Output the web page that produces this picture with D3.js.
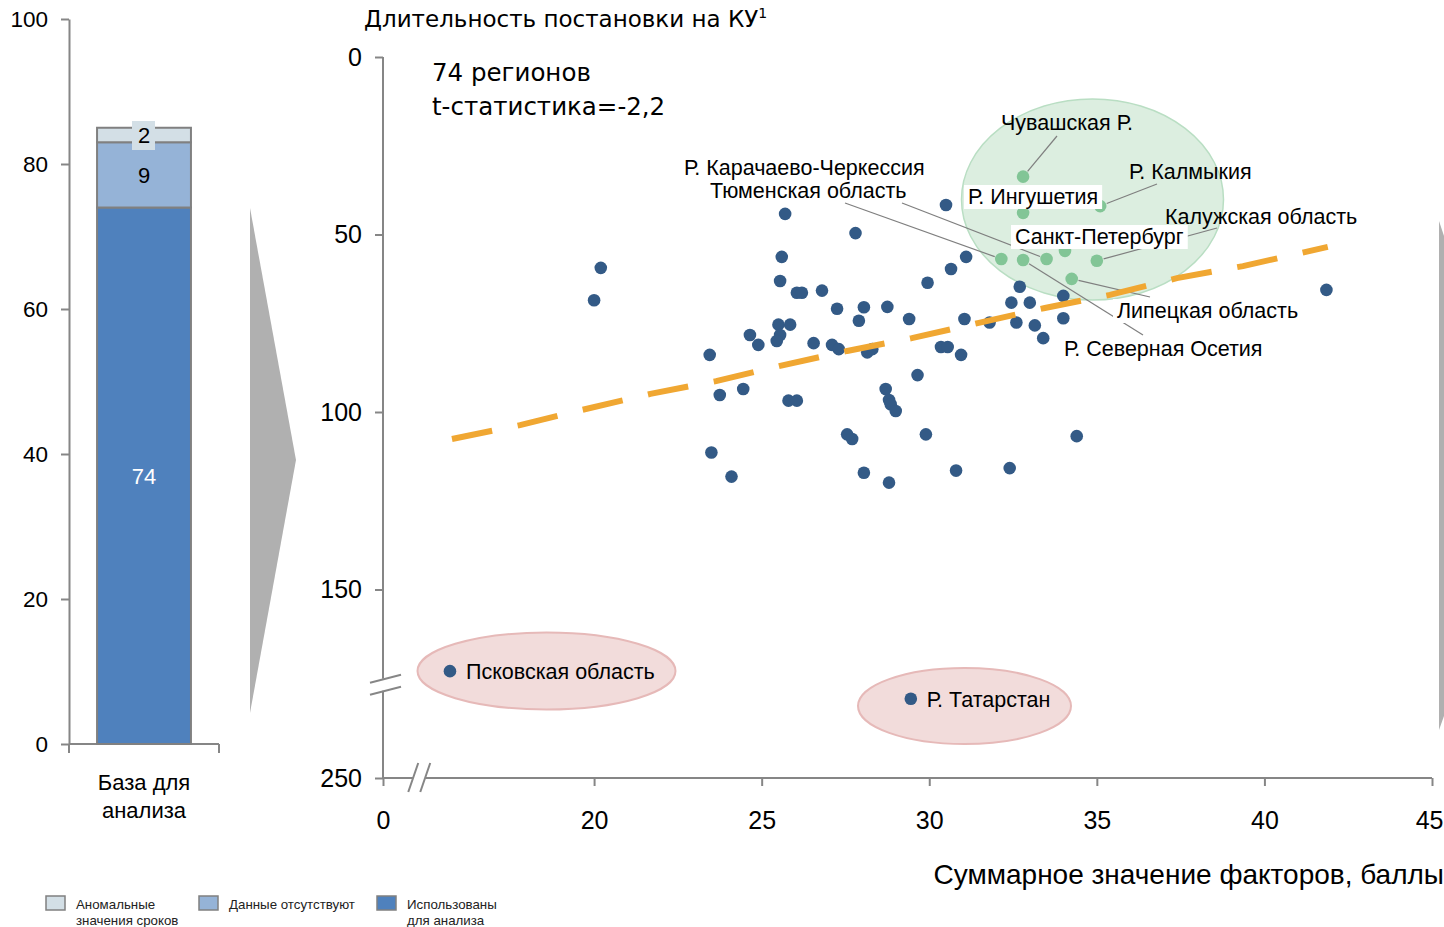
<!DOCTYPE html>
<html>
<head>
<meta charset="utf-8">
<script src="https://cdn.jsdelivr.net/npm/d3@7"></script>
<style>
  body { margin: 0; background: #fff; }
  svg { display: block; font-family: "Liberation Sans", Arial, sans-serif; }
</style>
</head>
<body>
<svg width="1444" height="927"></svg>
<script>
// ---- data: left bar ----
var barCategories = ["База для анализа"];
var barSeries = ["Использованы для анализа", "Данные отсутствуют", "Аномальные значения сроков"];
var barValues = [74, 9, 2];
var barColors = ["#4F81BD", "#95B3D7", "#D3DFE6"];
var barTicks = [0, 20, 40, 60, 80, 100];

// ---- data: scatter (x = сумма факторов, y = длительность) ----
var regions = [
  [20.0,68.5],[20.2,59.4],[25.7,44.2],[30.5,41.7],[27.8,49.6],[25.6,56.3],[25.55,63.1],[26.05,66.4],
  [26.2,66.4],[26.8,65.8],[27.25,70.9],[28.05,70.5],[28.75,70.4],[27.9,74.3],[25.5,75.4],[25.85,75.4],
  [25.55,78.3],[25.45,80.0],[24.65,78.3],[24.9,81.1],[26.55,80.6],[27.1,81.1],[27.3,82.3],[23.45,83.9],
  [29.4,73.8],[31.05,73.8],[28.15,83.2],[28.3,82.3],[30.35,81.7],[30.55,81.7],[30.95,83.9],
  [23.75,95.2],[24.45,93.5],[25.8,96.8],[26.05,96.8],[29.65,89.6],[28.7,93.5],[28.8,96.6],[28.85,97.8],
  [29.0,99.7],[27.55,106.3],[27.7,107.6],[29.9,106.3],[23.5,111.4],[24.1,118.2],[28.05,117.1],[28.8,119.9],
  [30.8,116.5],[32.4,115.8],[34.4,106.8],[41.85,65.6],
  [31.1,56.3],[30.65,59.7],[29.95,63.6],[32.7,64.7],[32.45,69.2],[33.0,69.2],[34.0,67.3],[34.0,73.6],
  [33.15,75.6],[32.6,74.8],[31.8,74.8],[33.4,79.2]
];
var highlighted = [
  {name: "Чувашская Р.", x: 32.8, y: 33.7},
  {name: "Р. Ингушетия", x: 32.8, y: 43.9},
  {name: "Р. Калмыкия", x: 35.1, y: 42.0},
  {name: "Санкт-Петербург", x: 34.05, y: 54.6},
  {name: "Тюменская область", x: 32.15, y: 56.9},
  {name: "Р. Карачаево-Черкессия", x: 33.5, y: 56.9},
  {name: "Р. Северная Осетия", x: 32.8, y: 57.2},
  {name: "Калужская область", x: 35.0, y: 57.4},
  {name: "Липецкая область", x: 34.25, y: 62.5}
];
var outliers = [
  {name: "Псковская область", x: 15.7, y: 173},
  {name: "Р. Татарстан", x: 29.45, y: 189}
];
var trend = [
  [15.76,107.6],[17.79,103.7],[19.64,99.4],[21.68,94.9],[23.64,91.3],[25.55,87.0],[27.55,82.8],
  [29.48,79.2],[31.48,74.9],[33.45,70.7],[35.39,67.0],[37.39,62.3],[39.36,58.9],[41.89,53.5]
];
var xTicks = [0, 20, 25, 30, 35, 40, 45];
var yTicks = [0, 50, 100, 150, 250];

// label layout (pixels): [x, baseline, leaderStartX, leaderStartY, whiteBox]
var labelLayout = {
  "Чувашская Р.": [1001, 130, 1057, 136, false],
  "Р. Ингушетия": [968, 204, null, null, true],
  "Р. Калмыкия": [1129, 179, 1157, 184, false],
  "Санкт-Петербург": [1015, 244, null, null, true],
  "Тюменская область": [710, 198, 845, 203, false],
  "Р. Карачаево-Черкессия": [684, 175, 902, 203, false],
  "Р. Северная Осетия": [1064, 356, 1143, 335, false],
  "Калужская область": [1165, 224, 1217, 228, false],
  "Липецкая область": [1117, 318, 1150, 297, true]
};

var svg = d3.select("svg");
var axisColor = "#868686";

//---------- left bar chart ----------
var yBar = d3.scaleLinear().domain([0, 100]).range([744, 19]);
var xBar = d3.scaleBand().domain(barCategories).range([69, 219]).padding(0.23);

var gl = svg.append("g");
var yAxisL = gl.append("g").attr("transform", "translate(69,0)")
  .call(d3.axisLeft(yBar).tickValues(barTicks).tickSize(8).tickPadding(13).tickSizeOuter(0));
yAxisL.selectAll("text").style("font-size", "22.5px").attr("fill", "#000");
yAxisL.selectAll("line,path").attr("stroke", axisColor).attr("stroke-width", 2);

gl.append("line").attr("x1", 69).attr("x2", 219).attr("y1", 744).attr("y2", 744)
  .attr("stroke", axisColor).attr("stroke-width", 2);
[69, 219].forEach(function(x) {
  gl.append("line").attr("x1", x).attr("x2", x).attr("y1", 744).attr("y2", 753)
    .attr("stroke", axisColor).attr("stroke-width", 2);
});

var stack = [];
var acc = 0;
barValues.forEach(function(v, i) {
  stack.push({v: v, y0: acc, y1: acc + v, color: barColors[i]});
  acc += v;
});
gl.selectAll("rect.seg").data(stack).enter().append("rect")
  .attr("class", "seg")
  .attr("x", xBar(barCategories[0]))
  .attr("width", xBar.bandwidth())
  .attr("y", function(d) { return yBar(d.y1); })
  .attr("height", function(d) { return yBar(d.y0) - yBar(d.y1); })
  .attr("fill", function(d) { return d.color; })
  .attr("stroke", "#808080").attr("stroke-width", 2);

var cx = xBar(barCategories[0]) + xBar.bandwidth() / 2;
stack.forEach(function(d, i) {
  var ym = (yBar(d.y0) + yBar(d.y1)) / 2;
  if (i === 2) {
    gl.append("rect").attr("x", cx - 12).attr("y", ym - 14).attr("width", 23).attr("height", 29)
      .attr("fill", d.color);
  }
  gl.append("text").attr("x", cx).attr("y", ym).attr("dy", "0.36em")
    .attr("text-anchor", "middle").style("font-size", "22px")
    .attr("fill", i === 0 ? "#fff" : "#000").text(d.v);
});

gl.append("text").attr("text-anchor", "middle").style("font-size", "22px")
  .selectAll("tspan").data(["База для", "анализа"]).enter().append("tspan")
  .attr("x", cx).attr("y", function(d, i) { return 790 + i * 28; }).text(function(d) { return d; });

// legend
var legendItems = [
  {color: barColors[2], lines: ["Аномальные", "значения сроков"], x: 46},
  {color: barColors[1], lines: ["Данные отсутствуют"], x: 199},
  {color: barColors[0], lines: ["Использованы", "для анализа"], x: 377}
];
legendItems.forEach(function(it) {
  svg.append("rect").attr("x", it.x).attr("y", 896).attr("width", 19).attr("height", 14)
    .attr("fill", it.color).attr("stroke", "#808080").attr("stroke-width", 1.5);
  svg.append("text").style("font-size", "13.3px").attr("fill", "#222")
    .selectAll("tspan").data(it.lines).enter().append("tspan")
    .attr("x", it.x + 30).attr("y", function(d, i) { return 909 + i * 15.5; })
    .text(function(d) { return d; });
});

// gray arrows
svg.append("polygon").attr("points", "250,208 296,460 250,713").attr("fill", "#B0B0B0");
svg.append("polygon").attr("points", "1439,221 1444,236 1444,716 1439,730").attr("fill", "#B0B0B0");

//---------- scatter ----------
var x = d3.scaleLinear().domain([0, 15, 45]).range([383, 426.5, 1432]);
var y = d3.scaleLinear().domain([0, 176, 250]).range([57, 681.8, 778]);
var gs = svg.append("g");

// ellipses
gs.append("ellipse").attr("cx", 1092.5).attr("cy", 199.5).attr("rx", 131).attr("ry", 100.5)
  .attr("fill", "#DCEEE0").attr("stroke", "#B9DEC3").attr("stroke-width", 1.5);
gs.append("ellipse").attr("cx", 546.5).attr("cy", 671).attr("rx", 129).attr("ry", 38.5)
  .attr("fill", "#F2DCDB").attr("stroke", "#E6B9B8").attr("stroke-width", 2);
gs.append("ellipse").attr("cx", 964.5).attr("cy", 706).attr("rx", 106.5).attr("ry", 38)
  .attr("fill", "#F2DCDB").attr("stroke", "#E6B9B8").attr("stroke-width", 2);

// axes
var xAx = gs.append("g").attr("transform", "translate(0,778)")
  .call(d3.axisBottom(x).tickValues(xTicks).tickSize(8).tickSizeOuter(0));
xAx.select(".domain").remove();
xAx.selectAll("line").attr("stroke", axisColor).attr("stroke-width", 2);
xAx.selectAll("text").attr("y", 51).attr("dy", 0).style("font-size", "25px").attr("fill", "#000");
// last label kept inside the page edge
xAx.selectAll("text").filter(function(d) { return d === 45; })
  .attr("text-anchor", "end").attr("x", 1443 - x(45));

var yAx = gs.append("g").attr("transform", "translate(383,0)")
  .call(d3.axisLeft(y).tickValues(yTicks).tickSize(8).tickSizeOuter(0));
yAx.select(".domain").remove();
yAx.selectAll("line").attr("stroke", axisColor).attr("stroke-width", 2);
yAx.selectAll("text").attr("x", -21).style("font-size", "25px").attr("fill", "#000");

var yb = y(176) + 3, xb = x(12.5);
var domainSegs = [
  [383, 57, 383, yb - 6], [383, yb + 6, 383, 779],
  [382, 778, xb - 6, 778], [xb + 6, 778, 1432, 778]
];
domainSegs.forEach(function(s) {
  gs.append("line").attr("x1", s[0]).attr("y1", s[1]).attr("x2", s[2]).attr("y2", s[3])
    .attr("stroke", axisColor).attr("stroke-width", 2);
});
[-6, 6].forEach(function(o) {
  gs.append("line").attr("x1", 370).attr("y1", yb + o + 4).attr("x2", 401).attr("y2", yb + o - 4)
    .attr("stroke", axisColor).attr("stroke-width", 2);
  gs.append("line").attr("x1", xb + o - 5).attr("y1", 792).attr("x2", xb + o + 5).attr("y2", 763)
    .attr("stroke", axisColor).attr("stroke-width", 2);
});

// points
gs.selectAll("circle.reg").data(regions).enter().append("circle")
  .attr("class", "reg")
  .attr("cx", function(d) { return x(d[0]); })
  .attr("cy", function(d) { return y(d[1]); })
  .attr("r", 6.3).attr("fill", "#335A86");
gs.selectAll("circle.hl").data(highlighted).enter().append("circle")
  .attr("class", "hl")
  .attr("cx", function(d) { return x(d.x); })
  .attr("cy", function(d) { return y(d.y); })
  .attr("r", 6.3).attr("fill", "#82C596");

// leader lines
highlighted.forEach(function(d) {
  var l = labelLayout[d.name];
  if (l[2] === null) return;
  var px = x(d.x), py = y(d.y);
  var dx = l[2] - px, dy = l[3] - py, len = Math.sqrt(dx * dx + dy * dy);
  gs.append("line").attr("x1", l[2]).attr("y1", l[3])
    .attr("x2", px + dx / len * 7).attr("y2", py + dy / len * 7)
    .attr("stroke", "#7F7F7F").attr("stroke-width", 1.2);
});
// labels
highlighted.forEach(function(d) {
  var l = labelLayout[d.name];
  var t = gs.append("text").attr("x", l[0]).attr("y", l[1])
    .style("font-size", "21.5px").attr("fill", "#000").text(d.name);
  if (l[4]) {
    var bb = t.node().getBBox();
    gs.insert("rect", function() { return t.node(); })
      .attr("x", bb.x - 4).attr("y", bb.y).attr("width", bb.width + 8).attr("height", bb.height)
      .attr("fill", "#fff");
  }
});

// trend line
gs.append("path").datum(trend)
  .attr("d", d3.line().x(function(d) { return x(d[0]); }).y(function(d) { return y(d[1]); }))
  .attr("fill", "none").attr("stroke", "#F0A732").attr("stroke-width", 6)
  .attr("stroke-dasharray", "41,26");

// outliers
outliers.forEach(function(d) {
  gs.append("circle").attr("cx", x(d.x)).attr("cy", y(d.y)).attr("r", 6.3).attr("fill", "#335A86");
  gs.append("text").attr("x", x(d.x) + 16).attr("y", y(d.y) + 8)
    .style("font-size", "21.5px").attr("fill", "#000").text(d.name);
});

// titles
var tt = svg.append("text").attr("x", 364).attr("y", 27)
  .style("font-family", "'DejaVu Sans', sans-serif").style("font-size", "23px").attr("fill", "#000");
tt.append("tspan").text("Длительность постановки на КУ");
tt.append("tspan").attr("dy", -9).style("font-size", "14px").text("1");

svg.append("text").style("font-family", "'DejaVu Sans', sans-serif").style("font-size", "24.5px")
  .selectAll("tspan").data(["74 регионов", "t-статистика=-2,2"]).enter().append("tspan")
  .attr("x", 432).attr("y", function(d, i) { return 81 + i * 34; }).text(function(d) { return d; });

svg.append("text").attr("x", 1444).attr("y", 884).attr("text-anchor", "end")
  .style("font-size", "28px").attr("fill", "#000").text("Суммарное значение факторов, баллы");
</script>
</body>
</html>
